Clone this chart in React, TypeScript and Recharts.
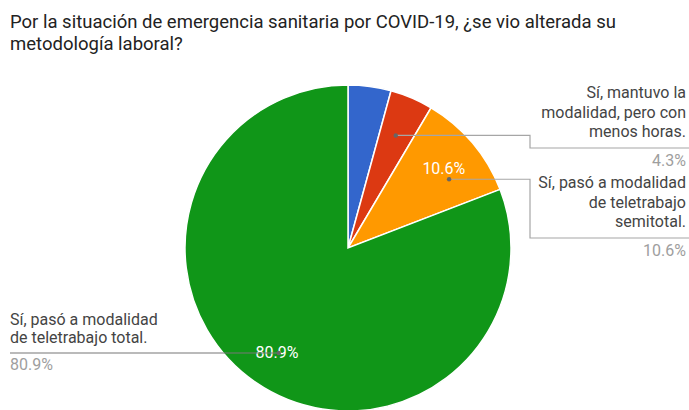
import { PieChart, Pie, Cell } from 'recharts';

const title = [
  'Por la situación de emergencia sanitaria por COVID-19, ¿se vio alterada su',
  'metodología laboral?',
];

const categories = [
  'No.',
  'Sí, mantuvo la modalidad, pero con menos horas.',
  'Sí, pasó a modalidad de teletrabajo semitotal.',
  'Sí, pasó a modalidad de teletrabajo total.',
];
const responses = [2, 2, 5, 38];
const labelLines = [
  [] as string[],
  ['Sí, mantuvo la', 'modalidad, pero con', 'menos horas.'],
  ['Sí, pasó a modalidad', 'de teletrabajo', 'semitotal.'],
  ['Sí, pasó a modalidad', 'de teletrabajo total.'],
];
const colors = ['#3366cc', '#dc3912', '#ff9900', '#109618'];

const data = categories.map((name, i) => ({ name, value: responses[i] }));

// where each callout goes (blue slice has none, like the original)
const callouts: Record<number, any> = {
  1: { side: 'right', elbowX: 530, lineY: 148, shift: 0 },
  2: { side: 'right', elbowX: 530, lineY: 238, shift: 6 },
  3: { side: 'left', lineY: 353, shift: 0 },
};
const insideLabel = [false, false, true, true];

const RAD = Math.PI / 180;
const W = 689;
const H = 410;

const fmt = (p: number) => `${(p * 100).toFixed(1)}%`;

const renderLabel = (props: any) => {
  const { cx, cy, midAngle, outerRadius, percent, index } = props;
  const out: any[] = [];
  if (insideLabel[index]) {
    const r = outerRadius * 0.77;
    const x = cx + r * Math.cos(-midAngle * RAD);
    const y = cy + r * Math.sin(-midAngle * RAD);
    out.push(
      <text key="in" x={x} y={y + 7} textAnchor="middle" fill="#fff" fontSize={16} fontFamily="Roboto, Arial, sans-serif">
        {fmt(percent)}
      </text>
    );
  }
  const c = callouts[index];
  if (c) {
    const a = midAngle - c.shift;
    const r = outerRadius * 0.75;
    const dx = cx + r * Math.cos(-a * RAD);
    const dy = cy + r * Math.sin(-a * RAD);
    const lines = labelLines[index];
    if (c.side === 'right') {
      const tx = 686;
      const step = 19.3;
      const lastBase = c.lineY - 11;
      out.push(
        <polyline key="ln" points={`${dx},${dy} ${c.elbowX},${dy} ${c.elbowX},${c.lineY} ${W},${c.lineY}`} fill="none" stroke="#a6a6a6" strokeWidth={1.2} />
      );
      lines.forEach((t, i) => {
        out.push(
          <text key={'t' + i} x={tx} y={lastBase - (lines.length - 1 - i) * step} textAnchor="end" fill="#444" fontSize={16} fontFamily="Roboto, Arial, sans-serif">
            {t}
          </text>
        );
      });
      out.push(
        <text key="pc" x={tx} y={c.lineY + 18} textAnchor="end" fill="#9e9e9e" fontSize={16} fontFamily="Roboto, Arial, sans-serif">
          {fmt(percent)}
        </text>
      );
    } else {
      const tx = 10;
      const step = 18;
      const lastBase = c.lineY - 10;
      out.push(
        <line key="ln" x1={tx} y1={c.lineY} x2={dx} y2={c.lineY} stroke="#777" strokeWidth={1.2} />
      );
      lines.forEach((t, i) => {
        out.push(
          <text key={'t' + i} x={tx} y={lastBase - (lines.length - 1 - i) * step} textAnchor="start" fill="#444" fontSize={16} fontFamily="Roboto, Arial, sans-serif">
            {t}
          </text>
        );
      });
      out.push(
        <text key="pc" x={tx} y={c.lineY + 17} textAnchor="start" fill="#9e9e9e" fontSize={16} fontFamily="Roboto, Arial, sans-serif">
          {fmt(percent)}
        </text>
      );
    }
    out.push(<circle key="dot" cx={dx} cy={c.side === 'left' ? c.lineY : dy} r={2.2} fill="#666" />);
  }
  return <g>{out}</g>;
};

export default function App() {
  return (
    <div style={{ position: 'relative', width: W, height: H, background: '#fff', overflow: 'hidden' }}>
      <style>{`body{margin:0}`}</style>
      <div
        style={{
          position: 'absolute',
          left: 10,
          top: 11,
          fontFamily: 'Roboto, Arial, sans-serif',
          fontSize: 18.5,
          lineHeight: '22px',
          color: '#222',
          whiteSpace: 'nowrap',
        }}
      >
        {title.map((t) => (
          <div key={t}>{t}</div>
        ))}
      </div>
      <PieChart width={W} height={H} margin={{ top: 0, right: 0, bottom: 0, left: 0 }}>
        <Pie
          data={data}
          dataKey="value"
          nameKey="name"
          cx={348}
          cy={248}
          outerRadius={163}
          startAngle={90}
          endAngle={-270}
          stroke="#fff"
          strokeWidth={1.5}
          label={renderLabel}
          labelLine={false}
          isAnimationActive={false}
        >
          {data.map((d, i) => (
            <Cell key={d.name} fill={colors[i]} />
          ))}
        </Pie>
      </PieChart>
    </div>
  );
}
